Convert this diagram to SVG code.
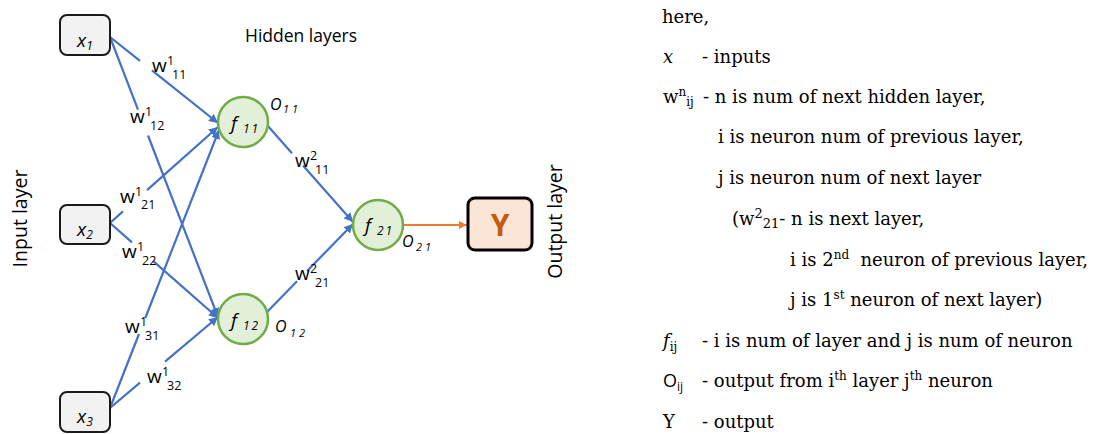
<svg xmlns="http://www.w3.org/2000/svg" width="1098" height="434" viewBox="0 0 1098 434">
<style>
  .sans { font-family: "Open Sans", "Liberation Sans", sans-serif; fill: #000; }
  .serif { font-family: "DejaVu Serif", "Liberation Serif", serif; fill: #000; font-size: 18px; }
  .box { fill: #f2f2f2; stroke: #1a1a1a; stroke-width: 2; }
  .neuron { fill: #e2f0d9; stroke: #70ad47; stroke-width: 2.5; }
  .conn { fill: none; stroke: #4472c4; stroke-width: 2.2; }
  .out { fill: none; stroke: #ed7d31; stroke-width: 2.2; }
  .w { font-size: 19px; }
  .ss { font-size: 12.5px; }
  .it { font-style: italic; }
  .lay { font-size: 19.5px; }
</style>
<defs>
  <marker id="ab" viewBox="0 0 10 10" refX="10" refY="5" markerUnits="userSpaceOnUse" markerWidth="9" markerHeight="9" orient="auto">
    <path d="M0,0 L10,5 L0,10 z" fill="#4472c4"/>
  </marker>
  <marker id="ao" viewBox="0 0 10 10" refX="10" refY="5" markerUnits="userSpaceOnUse" markerWidth="8" markerHeight="8" orient="auto">
    <path d="M0,0 L10,5 L0,10 z" fill="#ed7d31"/>
  </marker>
</defs>

<g id="connectors">
  <path class="conn" marker-end="url(#ab)" d="M110,37 L140,60.9 M152,70.4 L218,123"/>
  <path class="conn" marker-end="url(#ab)" d="M110,37 L138,109.6 M148,135.5 L218,317"/>
  <path class="conn" marker-end="url(#ab)" d="M110,223 L123,211.4 M147,190.1 L218,127"/>
  <path class="conn" marker-end="url(#ab)" d="M110,223 L132,242.4 M153,260.8 L218,318"/>
  <path class="conn" marker-end="url(#ab)" d="M110,408 L139,334 M145.3,318 L219,130"/>
  <path class="conn" marker-end="url(#ab)" d="M110,408 L140,382.7 M165,361.6 L218,317"/>
  <path class="conn" marker-end="url(#ab)" d="M267,125 L292,153.2 M303,165.6 L353,222"/>
  <path class="conn" marker-end="url(#ab)" d="M267,312 L297,281.3 M307,271.1 L353,224"/>
  <path class="out" marker-end="url(#ao)" d="M403,225 L467,225"/>
</g>

<g id="weights" class="sans">
  <text class="w" x="152" y="72">w<tspan class="ss" x="167" y="65">1</tspan><tspan class="ss" x="172" y="79">11</tspan></text>
  <text class="w" x="130" y="123">w<tspan class="ss" x="145" y="116">1</tspan><tspan class="ss" x="150" y="130">12</tspan></text>
  <text class="w" x="120" y="203">w<tspan class="ss" x="135" y="196">1</tspan><tspan class="ss" x="141" y="209">21</tspan></text>
  <text class="w" x="122" y="258">w<tspan class="ss" x="137" y="251">1</tspan><tspan class="ss" x="142" y="265">22</tspan></text>
  <text class="w" x="125" y="333">w<tspan class="ss" x="140" y="326">1</tspan><tspan class="ss" x="145" y="340">31</tspan></text>
  <text class="w" x="147" y="383">w<tspan class="ss" x="162" y="376">1</tspan><tspan class="ss" x="167" y="390">32</tspan></text>
  <text class="w" x="295" y="167">w<tspan class="ss" x="310" y="160">2</tspan><tspan class="ss" x="315" y="174">11</tspan></text>
  <text class="w" x="295" y="280">w<tspan class="ss" x="310" y="273">2</tspan><tspan class="ss" x="315" y="287">21</tspan></text>
</g>

<g id="x1">
  <rect class="box" x="60" y="15" width="50" height="40" rx="7"/>
  <text class="sans it" x="77" y="47" font-size="19">x<tspan font-size="12" dy="3">1</tspan></text>
</g>
<g id="x2">
  <rect class="box" x="60" y="205" width="50" height="39" rx="7"/>
  <text class="sans it" x="77" y="236" font-size="19">x<tspan font-size="12" dy="3">2</tspan></text>
</g>
<g id="x3">
  <rect class="box" x="60" y="392" width="50" height="40" rx="7"/>
  <text class="sans it" x="77" y="423" font-size="19">x<tspan font-size="12" dy="3">3</tspan></text>
</g>

<g id="f11">
  <circle class="neuron" cx="243" cy="122" r="25"/>
  <text class="sans it" x="231" y="130" font-size="19">f<tspan font-size="12" x="243" y="133" letter-spacing="2">11</tspan></text>
  <text class="sans it" x="270" y="110" font-size="16">O<tspan font-size="11" x="283" y="113" letter-spacing="3">11</tspan></text>
</g>
<g id="f12">
  <circle class="neuron" cx="243" cy="319" r="25"/>
  <text class="sans it" x="231" y="327" font-size="19">f<tspan font-size="12" x="243" y="330" letter-spacing="2">12</tspan></text>
  <text class="sans it" x="275" y="332" font-size="16">O<tspan font-size="11" x="290" y="337" letter-spacing="3">12</tspan></text>
</g>
<g id="f21">
  <circle class="neuron" cx="378" cy="225" r="25"/>
  <text class="sans it" x="365" y="232" font-size="19">f<tspan font-size="12" x="377" y="235" letter-spacing="2">21</tspan></text>
  <text class="sans it" x="402" y="247" font-size="16">O<tspan font-size="11" x="416" y="251" letter-spacing="3">21</tspan></text>
</g>
<g id="Y">
  <rect x="468" y="198" width="64" height="52" rx="7" fill="#fbe5d6" stroke="#000" stroke-width="3"/>
  <text class="sans" x="500" y="236" font-size="30" font-weight="bold" text-anchor="middle" style="fill:#c55a11">Y</text>
</g>

<g id="layer-labels" class="sans lay">
  <text x="245" y="42" font-size="17.5">Hidden layers</text>
  <text transform="translate(27,218.5) rotate(-90)" text-anchor="middle">Input layer</text>
  <text transform="translate(562,221.5) rotate(-90)" text-anchor="middle">Output layer</text>
</g>

<g id="legend" class="serif">
  <text x="662" y="23">here,</text>
  <text x="663" y="63" font-style="italic">x</text>
  <text x="702" y="63">- inputs</text>
  <text x="663" y="103">w<tspan font-size="12" dy="-7">n</tspan><tspan font-size="12" dy="10">ij</tspan></text>
  <text x="703" y="103">- n is num of next hidden layer,</text>
  <text x="718" y="143">i is neuron num of previous layer,</text>
  <text x="718" y="184">j is neuron num of next layer</text>
  <text x="732" y="225">(w<tspan font-size="13" dy="-7">2</tspan><tspan font-size="13" dy="10">21</tspan><tspan dy="-3">- n is next layer,</tspan></text>
  <text x="790" y="266" style="white-space:pre">i is 2<tspan font-size="12" dy="-7">nd</tspan><tspan dy="7">  neuron of previous layer,</tspan></text>
  <text x="790" y="306">j is 1<tspan font-size="12" dy="-7">st</tspan><tspan dy="7"> neuron of next layer)</tspan></text>
  <text x="663" y="347" font-style="italic">f<tspan font-size="12" font-style="normal" dy="4">ij</tspan></text>
  <text x="702" y="347">- i is num of layer and j is num of neuron</text>
  <text x="663" y="387" class="sans" font-size="18">O<tspan font-size="12" dy="4">ij</tspan></text>
  <text x="702" y="387">- output from i<tspan font-size="12" dy="-7">th</tspan><tspan dy="7"> layer j</tspan><tspan font-size="12" dy="-7">th</tspan><tspan dy="7"> neuron</tspan></text>
  <text x="663" y="428">Y</text>
  <text x="702" y="428">- output</text>
</g>
</svg>
